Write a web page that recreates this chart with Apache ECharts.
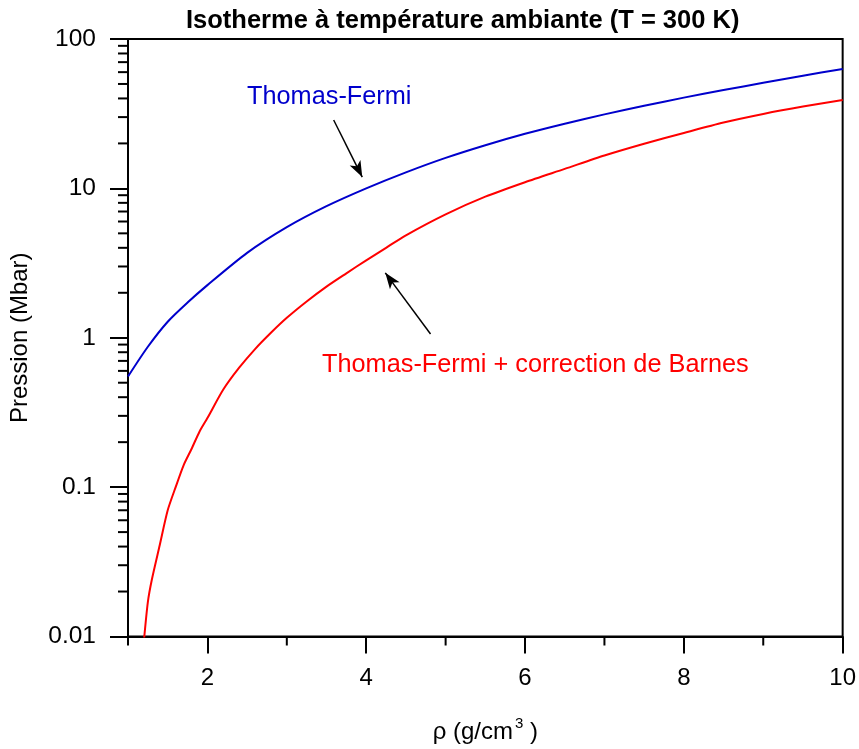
<!DOCTYPE html>
<html>
<head>
<meta charset="utf-8">
<script src="https://cdn.jsdelivr.net/npm/echarts@6/dist/echarts.min.js"></script>
<style>
  html, body { margin: 0; padding: 0; background: #fff; }
  #chart { width: 859px; height: 749px; }
</style>
</head>
<body>
<div id="chart"></div>
<script>
// densité (g/cm3) et pression (Mbar)
const rhoTF = [1.0, 1.25, 1.5, 1.75, 2.0, 2.5, 3.0, 3.5, 4.0, 4.5, 5.0, 5.5, 6.0, 6.5, 7.0, 7.5, 8.0, 8.5, 9.0, 9.5, 10.0];
const pTF = [0.55, 0.87, 1.28, 1.72, 2.25, 3.7, 5.5, 7.6, 10.0, 12.8, 16.0, 19.45, 23.2, 27.1, 31.3, 35.7, 40.5, 45.5, 50.9, 56.8, 63.0];

const rhoBarnes = [1.2, 1.25, 1.3, 1.4, 1.5, 1.6, 1.7, 1.8, 1.9, 2.0, 2.2, 2.4, 2.6, 2.8, 3.0, 3.25, 3.5, 3.75, 4.0, 4.25, 4.5, 5.0, 5.5, 6.0, 6.5, 7.0, 7.5, 8.0, 8.5, 9.0, 9.5, 10.0];
const pBarnes = [0.0093, 0.017, 0.024, 0.041, 0.07, 0.10, 0.14, 0.18, 0.235, 0.29, 0.45, 0.63, 0.84, 1.08, 1.36, 1.75, 2.2, 2.7, 3.3, 4.0, 4.85, 6.7, 8.8, 11.0, 13.5, 16.6, 19.9, 23.5, 27.6, 31.5, 35.3, 39.0];

const xMajorTicks = [2, 4, 6, 8, 10];
const xMinorTicks = [1, 3, 5, 7, 9];
const yMinorTicks = [0.02, 0.03, 0.04, 0.05, 0.06, 0.07, 0.08, 0.09,
  0.2, 0.3, 0.4, 0.5, 0.6, 0.7, 0.8, 0.9,
  2, 3, 4, 5, 6, 7, 8, 9,
  20, 30, 40, 50, 60, 70, 80, 90];

// flèches des annotations, en coordonnées des données
const arrowTF = [[3.59, 28.7], [3.95, 11.9]];
const arrowBarnes = [[4.81, 1.06], [4.24, 2.72]];

const FONT = "'Liberation Sans', Arial, sans-serif";

const chart = echarts.init(document.getElementById("chart"));

const minorData = xMinorTicks.map((v) => [v, 0.01, 0])
  .concat(yMinorTicks.map((v) => [1, v, 1]));

const option = {
  animation: false,
  backgroundColor: "#fff",
  title: {
    text: "Isotherme à température ambiante (T = 300 K)",
    left: 181,
    top: 3,
    textStyle: {
      fontFamily: FONT,
      fontSize: 25.5,
      fontWeight: "bold",
      color: "#000",
    },
  },
  grid: {
    left: 127,
    top: 39,
    right: 16,
    bottom: 112,
    show: true,
    borderColor: "#000",
    borderWidth: 2,
  },
  xAxis: {
    type: "value",
    min: 1,
    max: 10,
    name: "{a|ρ (g/cm}{sup|3}{a| )}",
    nameLocation: "middle",
    nameGap: 80,
    nameTextStyle: {
      rich: {
        a: { fontFamily: FONT, fontSize: 24, color: "#000" },
        sup: { fontFamily: FONT, fontSize: 15, color: "#000", padding: [0, 0, 16, 2] },
      },
    },
    splitLine: { show: false },
    axisLine: { lineStyle: { color: "#000", width: 2 } },
    axisTick: {
      customValues: xMajorTicks,
      length: 17,
      lineStyle: { color: "#000", width: 2 },
    },
    axisLabel: {
      customValues: xMajorTicks,
      margin: 30,
      fontFamily: FONT,
      fontSize: 24,
      color: "#000",
    },
  },
  yAxis: {
    type: "log",
    min: 0.01,
    max: 100,
    name: "Pression (Mbar)",
    nameLocation: "middle",
    nameGap: 96,
    nameRotate: 90,
    nameTextStyle: { fontFamily: FONT, fontSize: 24, color: "#000" },
    splitLine: { show: false },
    axisLine: { lineStyle: { color: "#000", width: 2 } },
    axisTick: { length: 18, lineStyle: { color: "#000", width: 2 } },
    axisLabel: {
      margin: 32,
      fontFamily: FONT,
      fontSize: 24.5,
      color: "#000",
      formatter: (v) => String(+v.toPrecision(6)),
    },
  },
  graphic: [
    {
      type: "text",
      left: 247,
      top: 85,
      style: { text: "Thomas-Fermi", fill: "#0000cc", font: "25.3px " + FONT },
    },
    {
      type: "text",
      left: 322,
      top: 353,
      style: { text: "Thomas-Fermi + correction de Barnes", fill: "#ff0000", font: "25.3px " + FONT },
    },
  ],
  series: [
    {
      name: "Thomas-Fermi",
      type: "line",
      data: rhoTF.map((r, i) => [r, pTF[i]]),
      showSymbol: false,
      smooth: 0.25,
      lineStyle: { color: "#0000cc", width: 2 },
      markLine: {
        silent: true,
        symbol: ["none", "arrow"],
        symbolSize: [9, 16],
        lineStyle: { color: "#000", width: 1.5, type: "solid" },
        label: { show: false },
        data: [
          [{ coord: arrowTF[0] }, { coord: arrowTF[1] }],
          [{ coord: arrowBarnes[0] }, { coord: arrowBarnes[1] }],
        ],
      },
    },
    {
      name: "Thomas-Fermi + correction de Barnes",
      type: "line",
      data: rhoBarnes.map((r, i) => [r, pBarnes[i]]),
      showSymbol: false,
      smooth: 0.25,
      clip: true,
      lineStyle: { color: "#ff0000", width: 2 },
    },
    {
      // petites graduations secondaires
      type: "custom",
      clip: false,
      silent: true,
      data: minorData,
      renderItem: (params, api) => {
        const p = api.coord([api.value(0), api.value(1)]);
        const horizontal = api.value(2) === 1;
        return {
          type: "line",
          shape: horizontal
            ? { x1: p[0] - 10, y1: p[1], x2: p[0], y2: p[1] }
            : { x1: p[0], y1: p[1], x2: p[0], y2: p[1] + 9 },
          style: { stroke: "#000", lineWidth: 2 },
        };
      },
    },
  ],
};

chart.setOption(option);
</script>
</body>
</html>
